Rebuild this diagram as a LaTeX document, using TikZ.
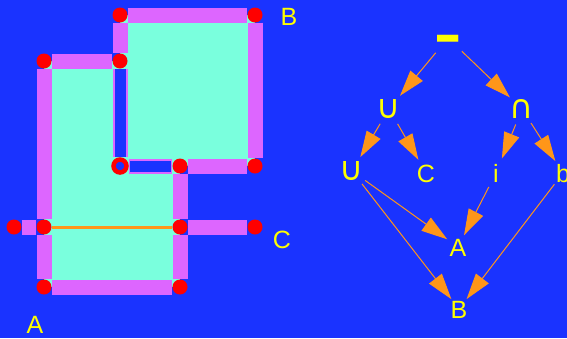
\documentclass[tikz,border=0pt]{standalone}
\usepackage{fontspec}
\setmainfont{Liberation Sans}
\newfontfamily\symfont{DejaVu Sans}
\usetikzlibrary{arrows.meta}
\pgfdeclarelayer{back}
\pgfsetlayers{back,main}

\definecolor{bgblue}{RGB}{26,51,255}
\definecolor{barpink}{RGB}{221,102,255}
\definecolor{fillaqua}{RGB}{122,255,221}
\definecolor{linkorange}{RGB}{255,150,25}
\definecolor{labelyellow}{RGB}{255,255,0}
\definecolor{dotred}{RGB}{255,0,0}

\newcommand{\setop}[1]{{\symfont\resizebox{!}{19pt}{#1}}}
% thick difference bar, centred on the baseline
\newcommand{\diffbar}{\raisebox{-19pt}{\scalebox{0.85}[2.8]{\bfseries —}}}

\begin{document}
\begin{tikzpicture}[x=1pt,y=-1pt,
  dot/.style={circle,fill=dotred,inner sep=0pt,minimum size=15pt},
  ring/.style={circle,draw=dotred,line width=4.5pt,fill=bgblue,inner sep=0pt,minimum size=13pt},
  bar/.style={draw=barpink,line width=15pt},
  slotcore/.style={draw=bgblue,line width=11pt},
  lbl/.style={text=labelyellow,font=\fontsize{25}{30}\selectfont,inner sep=0pt},
  gnode/.style={lbl,circle,text height=18pt,text depth=0pt,minimum size=#1},
  gnode/.default=30pt,
  edge/.style={draw=linkorange,line width=1pt,-{Triangle[length=26pt,width=16pt]}},
]
\useasboundingbox (0,0) rectangle (567,338);

% ---- region diagram: corner points ----
\node[dot]  (bTL) at (120,15)  {};
\node[dot]  (bTR) at (255,15)  {};
\node[dot]  (bBR) at (255,166) {};
\node[dot]  (bBM) at (180,166) {};
\node[ring] (bBL) at (120,166) {};
\node[dot]  (aTR) at (120,61)  {};
\node[dot]  (aTL) at (44,61)   {};
\node[dot]  (aML) at (44,227)  {};
\node[dot]  (aMR) at (180,227) {};
\node[dot]  (aBL) at (44,287)  {};
\node[dot]  (aBR) at (180,287) {};
\node[dot]  (cL)  at (14,227)  {};
\node[dot]  (cR)  at (255,227) {};

\begin{pgfonlayer}{back}
  \fill[bgblue] (0,0) rectangle (567,338);
  % filled regions
  \fill[fillaqua] (aTL.center) rectangle (aBR.center);
  \fill[fillaqua] (bTL.center) rectangle (bBR.center);
  % outer edges
  \draw[bar] (bTL) -- (bTR);
  \draw[bar] (bTR) -- (bBR);
  \draw[bar] (bBM) -- (bBR);
  \draw[bar] (bTL) -- (aTR);
  \draw[bar] (aTL) -- (aTR);
  \draw[bar] (aTL) -- (aML);
  \draw[bar] (aML) -- (aBL);
  \draw[bar] (aBL) -- (aBR);
  \draw[bar] (bBM) -- (aMR);
  \draw[bar] (aMR) -- (aBR);
  \draw[bar] (cL) -- (aML);
  \draw[bar] (aMR) -- (cR);
  % hollow inner edges
  \draw[bar] (aTR) -- (bBL);
  \draw[bar] (bBL) -- (bBM);
  \draw[slotcore] (aTR) -- (bBL);
  \draw[slotcore,shorten <=1.5pt,shorten >=1.5pt] (bBL) -- (bBM);
  % line C across region A
  \draw[linkorange,line width=3pt] (aML) -- (aMR);
\end{pgfonlayer}

\node[lbl] (labB) at (289,17)  {B};
\node[lbl] (labC) at (282,240) {C};
\node[lbl] (labA) at (35,325)  {A};

% ---- expression tree ----
\node[lbl,circle,text height=0pt,text depth=0pt,minimum size=38pt] (diff) at (448,38) {\diffbar};
\node[gnode=34pt] (uA)   at (389,109) {\setop{∪}};
\node[gnode=33pt] (capn) at (522,109) {\setop{∩}};
\node[gnode=32pt] (uB)   at (352,171) {\setop{∪}};
\node[gnode=30pt] (nc)   at (426,173) {C};
\node[gnode=31pt] (ni)   at (496,173) {i};
\node[gnode=28pt] (nb)   at (563,173) {b};
\node[gnode=26pt] (na)   at (458,247) {A};
\node[gnode=24pt] (nB)   at (459,309) {B};

\draw[edge] (diff) -- (uA);
\draw[edge] (diff) -- (capn);
\draw[edge] (uA) -- (uB);
\draw[edge] (uA) -- (nc);
\draw[edge] (capn) -- (ni);
\draw[edge] (capn) -- (nb);
\draw[edge] (uB) -- (na);
\draw[edge] (uB) -- (nB);
\draw[edge] (ni) -- (na);
\draw[edge] (nb) -- (nB);
\end{tikzpicture}
\end{document}
